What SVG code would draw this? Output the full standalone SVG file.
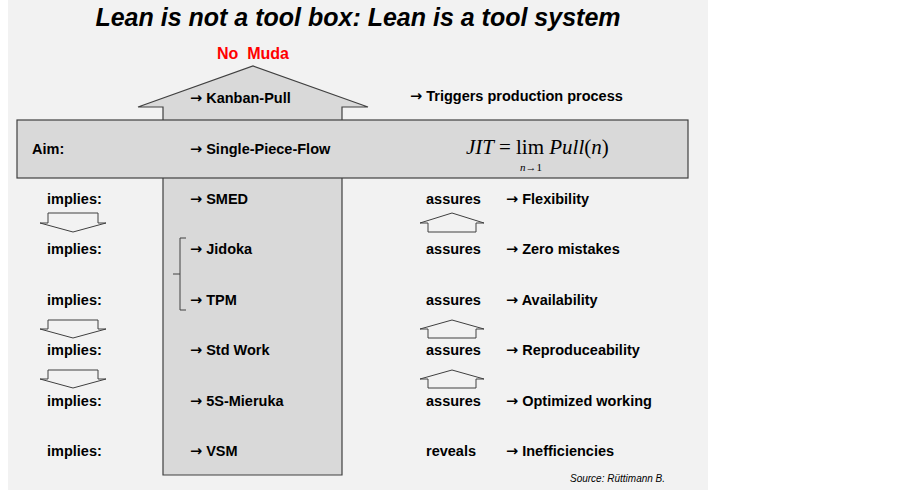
<svg xmlns="http://www.w3.org/2000/svg" width="903" height="490" viewBox="0 0 903 490">
<style>
.t{font-family:"Liberation Sans",Arial,sans-serif;font-weight:bold;font-size:14.5px;fill:#000}
.a{font-family:"DejaVu Sans",sans-serif;font-weight:bold}
.sh{fill:#d9d9d9;stroke:#404040;stroke-width:1.2}
.sm{fill:#f2f2f2;stroke:#404040;stroke-width:1}
.m{font-family:"Liberation Serif","Times New Roman",serif;font-style:italic;font-size:21px}
</style>
<rect x="8" y="0" width="700" height="490" fill="#f2f2f2"/>
<text x="358" y="26" text-anchor="middle" style="font-family:'Liberation Sans',Arial,sans-serif;font-weight:bold;font-style:italic;font-size:25px">Lean is not a tool box: Lean is a tool system</text>
<g id="bigArrow">
<polygon class="sh" points="163,475 163,107 138,107 253,66 368,107 342,107 342,475"/>
</g>
<g id="aimBar">
<rect class="sh" x="17" y="120" width="671" height="58"/>
</g>
<text x="253" y="59" text-anchor="middle" class="t" style="fill:#ff0000;font-size:16px" xml:space="preserve">No  Muda</text>
<g id="connectors">
<polygon class="sm" points="48,213 98,213 98,223 106,223 73,232 40,223 48,223"/>
<polygon class="sm" points="48,320 98,320 98,329 106,329 73,338 40,329 48,329"/>
<polygon class="sm" points="48,370 98,370 98,379 106,379 73,388 40,379 48,379"/>
<polygon class="sm" points="428,232 476,232 476,223 484,223 452,213 420,223 428,223"/>
<polygon class="sm" points="428,338 476,338 476,329 484,329 452,320 420,329 428,329"/>
<polygon class="sm" points="428,388 476,388 476,379 484,379 452,370 420,379 428,379"/>
<path d="M186,238 H180 V310 H186 M180,274 H173" fill="none" stroke="#404040" stroke-width="1"/>
</g>
<g id="labels">
<text class="t" x="190" y="103"><tspan class="a">→</tspan> Kanban-Pull</text>
<text class="t" x="410" y="101"><tspan class="a">→</tspan> Triggers production process</text>
<text class="t" x="32" y="154">Aim:</text>
<text class="t" x="190" y="154"><tspan class="a">→</tspan> Single-Piece-Flow</text>
<text class="m" x="466" y="154">JIT <tspan font-style="normal">= lim</tspan> Pull<tspan font-style="normal">(</tspan>n<tspan font-style="normal">)</tspan></text>
<text x="520" y="171" style="font-family:'Liberation Serif',serif;font-style:italic;font-size:11px">n<tspan font-style="normal">→1</tspan></text>
<text class="t" x="47" y="204">implies:</text>
<text class="t" x="47" y="254">implies:</text>
<text class="t" x="47" y="305">implies:</text>
<text class="t" x="47" y="355">implies:</text>
<text class="t" x="47" y="406">implies:</text>
<text class="t" x="47" y="456">implies:</text>
<text class="t" x="190" y="204"><tspan class="a">→</tspan> SMED</text>
<text class="t" x="190" y="254"><tspan class="a">→</tspan> Jidoka</text>
<text class="t" x="190" y="305"><tspan class="a">→</tspan> TPM</text>
<text class="t" x="190" y="355"><tspan class="a">→</tspan> Std Work</text>
<text class="t" x="190" y="406"><tspan class="a">→</tspan> 5S-Mieruka</text>
<text class="t" x="190" y="456"><tspan class="a">→</tspan> VSM</text>
<text class="t" x="426" y="204">assures</text>
<text class="t" x="426" y="254">assures</text>
<text class="t" x="426" y="305">assures</text>
<text class="t" x="426" y="355">assures</text>
<text class="t" x="426" y="406">assures</text>
<text class="t" x="426" y="456">reveals</text>
<text class="t" x="506" y="204"><tspan class="a">→</tspan> Flexibility</text>
<text class="t" x="506" y="254"><tspan class="a">→</tspan> Zero mistakes</text>
<text class="t" x="506" y="305"><tspan class="a">→</tspan> Availability</text>
<text class="t" x="506" y="355"><tspan class="a">→</tspan> Reproduceability</text>
<text class="t" x="506" y="406"><tspan class="a">→</tspan> Optimized working</text>
<text class="t" x="506" y="456"><tspan class="a">→</tspan> Inefficiencies</text>
<text x="570" y="482" style="font-family:'Liberation Sans',Arial,sans-serif;font-style:italic;font-size:10px">Source: Rüttimann B.</text>
</g>
</svg>
